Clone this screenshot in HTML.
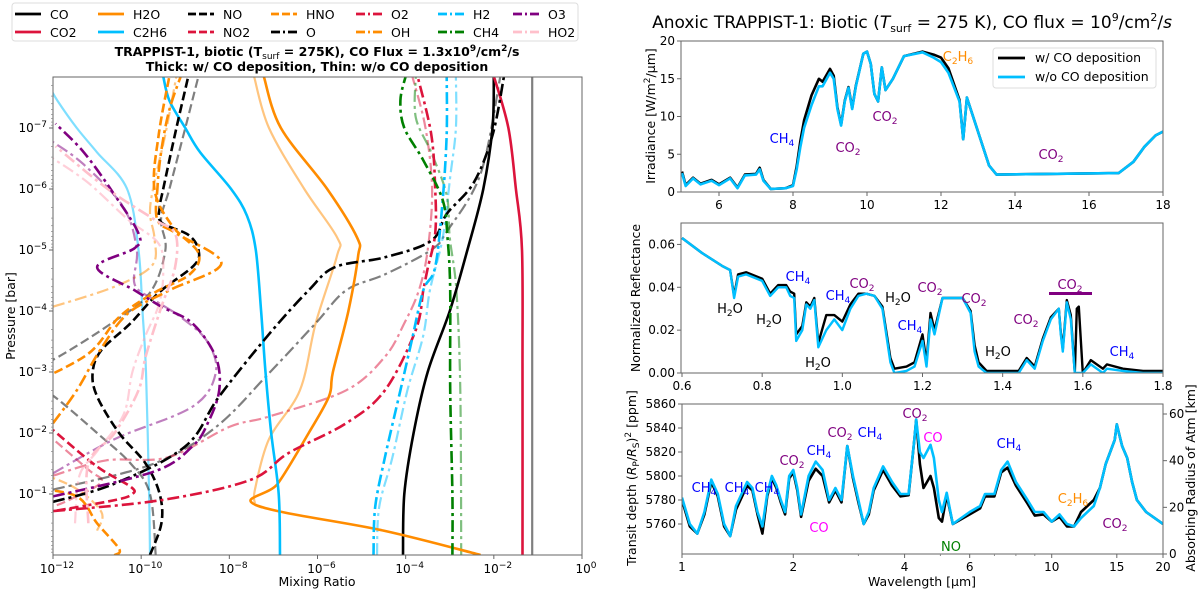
<!DOCTYPE html>
<html><head><meta charset="utf-8">
<style>
html,body{margin:0;padding:0;background:#fff;}
svg{display:block;font-family:"DejaVu Sans","Liberation Sans",sans-serif;}
</style></head>
<body>
<svg id="fig" width="1200" height="592" viewBox="0 0 1200 592" xmlns="http://www.w3.org/2000/svg">
<defs>
<clipPath id="clipL"><rect x="53" y="77" width="529" height="478"/></clipPath>
<clipPath id="clipP1"><rect x="681" y="41" width="482" height="151"/></clipPath>
<clipPath id="clipP2"><rect x="681" y="223" width="482" height="150"/></clipPath>
<clipPath id="clipP3"><rect x="682" y="404" width="481" height="150"/></clipPath>
</defs>
<g id="left"></g>
<g id="right"></g>
</svg>
<script>
// ---------------- LEFT PANEL DATA: [log10 mixing ratio, log10 pressure(bar)] ----------------
const speciesNames = ["CO","CO2","H2O","C2H6","NO","NO2","HNO","O","O2","OH","H2","CH4","O3","HO2"];
const CO_thick = [[-4.06,0],[-4.03,-1],[-3.82,-2],[-3.5,-3],[-3.0,-4],[-2.6,-5],[-2.24,-6],[-2.03,-7],[-2.0,-7.85]];
const CO_thin = [[-1.13,0],[-1.13,-4],[-1.13,-7.85]];
const CO2_thick = [[-1.35,0],[-1.35,-3],[-1.36,-5],[-1.5,-6],[-1.67,-7],[-2.0,-7.85]];
const H2O_thick = [[-2.3,0],[-4.5,-0.4],[-7.4,-0.82],[-6.9,-1.17],[-6.2,-2],[-5.74,-2.6],[-5.65,-3],[-5.3,-4],[-5.08,-4.9],[-5.1,-5.2],[-5.78,-6],[-6.83,-7],[-7.22,-7.85]];
const H2O_thin = [[-7.42,-0.85],[-7.42,-1.07],[-7.1,-1.9],[-6.4,-2.7],[-6.04,-3.8],[-5.56,-4.9],[-5.55,-5.2],[-6.3,-6],[-7.1,-7],[-7.44,-7.85]];
const C2H6_thick = [[-6.85,0],[-6.88,-1],[-7.05,-2],[-7.18,-3],[-7.28,-4],[-7.4,-5],[-7.6,-5.56],[-7.96,-6],[-8.66,-6.6],[-9.0,-7],[-9.36,-7.45],[-9.5,-7.85]];
const C2H6_thin = [[-9.8,0],[-9.82,-1],[-9.89,-3],[-9.97,-4],[-10.06,-5],[-10.32,-6],[-11.0,-6.6],[-11.46,-7],[-11.9,-7.45],[-12.1,-7.7]];
const NO_thick = [[-9.8,0],[-9.54,-0.52],[-9.58,-1],[-9.9,-1.5],[-10.5,-2],[-11.0,-2.6],[-11.1,-3],[-10.9,-3.36],[-10.24,-3.8],[-9.6,-4.3],[-8.8,-4.75],[-8.7,-5.0],[-8.93,-5.25],[-9.54,-5.45],[-9.58,-5.7],[-9.5,-6],[-9.2,-7],[-8.93,-7.85]];
const NO_thin = [[-9.67,0],[-9.8,-1],[-10.24,-1.5],[-11.0,-2],[-11.8,-2.5],[-12.5,-2.9],[-12.5,-3.1],[-12.0,-3.2],[-10.67,-3.8],[-9.8,-4.3],[-9.45,-5],[-9.55,-5.5],[-9.36,-6],[-9.0,-7],[-8.7,-7.85]];
const NO2_thick = [[-12.5,-0.7],[-12,-0.72],[-10.6,-0.9],[-10.2,-1.0],[-10.24,-1.12],[-11.0,-1.45],[-12,-2.05]];
const NO2_thin = [[-12.5,-0.78],[-12,-0.8],[-11.5,-0.95],[-10.9,-1.2],[-11.2,-1.4],[-12,-1.9]];
const HNO_thick = [[-10.6,0],[-10.5,-0.1],[-11.0,-0.52],[-11.46,-0.96],[-12.5,-1.1]];
const HNO_thin = [[-11.0,-0.4],[-10.9,-0.7],[-11.5,-1.1],[-12.5,-1.4]];
const HNO_thick_up = [[-12.5,-2.8],[-11.2,-3.3],[-10.5,-3.9],[-9.7,-4.3],[-8.9,-4.6],[-8.7,-4.95],[-9.3,-5.4],[-9.7,-6.0],[-9.6,-6.9],[-9.36,-7.85]];
const O_thick = [[-12,-0.87],[-10.6,-1.17],[-9.0,-1.78],[-8.23,-2.6],[-7.1,-3.62],[-6.2,-4.34],[-5.6,-4.72],[-4.47,-4.88],[-3.42,-5.15],[-3.07,-5.59],[-2.46,-6.1],[-2.03,-6.88],[-1.77,-7.85]];
const O_thin = [[-12,-1.07],[-9.7,-1.5],[-8.3,-2.1],[-7.1,-2.98],[-6.04,-3.8],[-5.35,-4.34],[-4.47,-4.6],[-3.42,-5.0],[-3.07,-5.3],[-2.3,-6.25],[-1.85,-7.85]];
const O2_thick = [[-12,-0.72],[-9.54,-0.9],[-7.53,-1.23],[-6.66,-1.67],[-5.35,-2.16],[-4.47,-2.7],[-3.77,-3.69],[-3.6,-4.34],[-3.5,-4.7],[-3.33,-5.27],[-3.33,-6.0],[-3.42,-6.9],[-3.73,-7.85]];
const O2_thin = [[-12,-1.3],[-10.8,-1.55],[-9.4,-1.6],[-8,-2.1],[-7.1,-2.27],[-5.35,-2.7],[-4.47,-3.25],[-4.03,-3.8],[-3.7,-4.34],[-3.5,-5.0],[-3.4,-6.0],[-3.55,-7.0],[-3.85,-7.85]];
const OH_thick = [[-12,-2.16],[-11.46,-2.7],[-10.93,-3.36],[-10.3,-3.96],[-9.36,-4.34],[-8.18,-4.78],[-9.2,-5.27],[-9.63,-5.49],[-9.63,-6.03],[-9.54,-6.64],[-9.36,-7.3],[-9.1,-7.85]];
const OH_thin = [[-12,-4.07],[-10.6,-4.4],[-9.75,-4.75],[-9.7,-5.2],[-9.8,-5.6],[-9.72,-6.04],[-9.45,-6.9],[-9.2,-7.85]];
const H2_thick = [[-4.73,0],[-4.69,-0.79],[-4.47,-1.6],[-4.12,-2.7],[-3.86,-3.52],[-3.6,-4.34],[-3.33,-4.72],[-3.16,-5.82],[-3.07,-6.9],[-3.07,-7.85]];
const H2_thin = [[-4.65,0],[-4.6,-0.79],[-4.3,-1.6],[-3.96,-2.7],[-3.6,-3.6],[-3.45,-4.34],[-3.16,-5.2],[-2.99,-6.2],[-2.86,-7.0],[-2.86,-7.85]];
const CH4_thick = [[-2.94,0],[-2.94,-1],[-2.99,-2.7],[-2.99,-4.34],[-3.05,-5.2],[-3.16,-5.82],[-3.6,-6.47],[-4.03,-7.0],[-4.12,-7.45],[-4.0,-7.85]];
const CH4_thin = [[-2.74,0],[-2.76,-2.7],[-2.85,-4.34],[-3.0,-5.2],[-3.07,-5.9],[-3.42,-6.6],[-3.77,-7.17],[-3.77,-7.85]];
const O3_thick = [[-12,-0.96],[-9.7,-1.37],[-8.84,-1.78],[-8.49,-2.16],[-8.23,-2.7],[-8.31,-3.25],[-8.84,-3.8],[-9.54,-4.07],[-10.15,-4.34],[-11.0,-4.72],[-10.15,-5.03],[-10.06,-5.27],[-10.6,-5.9],[-11.3,-6.6],[-11.94,-7.07]];
const O3_thin = [[-12,-1.34],[-10.6,-1.9],[-8.84,-2.43],[-8.31,-2.98],[-8.5,-3.5],[-9.1,-3.9],[-9.7,-4.18],[-10.15,-4.44],[-10.1,-5.0],[-10.4,-5.7],[-11.3,-6.4],[-12,-6.77]];
const HO2_thick = [[-11.2,-0.52],[-11.2,-1.5],[-10.6,-2.0],[-10.06,-2.7],[-9.9,-3.25],[-9.54,-4.07],[-9.23,-4.72],[-9.23,-5.27],[-9.7,-5.5],[-10.76,-6.0],[-11.94,-6.7]];
const HO2_thin = [[-11.5,-0.52],[-11.4,-1.3],[-11.0,-1.7],[-10.4,-2.3],[-10.2,-3.0],[-9.9,-3.6],[-9.6,-4.1],[-9.5,-4.6],[-9.6,-5.1],[-10.3,-5.5],[-11.2,-6.1],[-12,-6.5]];
const xTickExps = [-12,-10,-8,-6,-4,-2,0];
const yTickExps = [-7,-6,-5,-4,-3,-2,-1];

// ---------------- RIGHT PANEL DATA ----------------
const irrWl = [5.0,5.1,5.3,5.5,5.8,6.0,6.3,6.5,6.7,7.0,7.1,7.2,7.4,7.8,8.0,8.1,8.2,8.3,8.5,8.7,8.8,9.0,9.1,9.2,9.3,9.4,9.5,9.6,9.7,9.9,10.0,10.1,10.2,10.3,10.4,10.5,10.7,11.0,11.5,11.8,12.0,12.2,12.5,12.6,12.7,13.0,13.3,13.5,16.8,17.2,17.5,17.8,18.0];
const irrBlue = [2.5,0.8,1.8,1.0,1.5,0.9,1.8,0.5,2.2,2.3,3.0,1.5,0.4,0.5,0.8,3.0,6.0,8.5,11.5,14.0,14.0,15.8,15.0,11.0,8.8,12.0,13.8,11.0,14.0,18.3,18.6,17.0,13.0,12.0,16.5,13.5,15.0,18.0,18.5,17.8,17.2,15.8,12.0,7.0,12.5,8.0,3.5,2.3,2.5,4.0,6.0,7.5,8.0];
const irrBlack = [2.7,0.9,1.9,1.1,1.6,1.0,1.9,0.6,2.3,2.4,3.2,1.6,0.4,0.5,0.9,3.4,6.8,9.5,12.8,15.0,14.6,16.3,15.4,11.2,8.9,12.1,13.9,11.1,14.1,18.3,18.6,17.0,13.0,12.0,16.5,13.5,15.0,18.0,18.6,18.2,17.8,16.4,12.2,7.0,12.5,8.0,3.5,2.3,2.5,4.0,6.0,7.5,8.0];
const reflWl = [0.6,0.65,0.7,0.72,0.73,0.74,0.76,0.8,0.82,0.84,0.86,0.87,0.88,0.885,0.9,0.91,0.92,0.93,0.94,0.96,0.98,1.0,1.02,1.04,1.06,1.08,1.1,1.12,1.13,1.16,1.18,1.2,1.21,1.22,1.23,1.25,1.3,1.32,1.33,1.34,1.36,1.44,1.46,1.48,1.5,1.52,1.54,1.545,1.55,1.56,1.57,1.58,1.585,1.59,1.6,1.62,1.65,1.66,1.7,1.75,1.8];
const reflBlue = [0.063,0.056,0.05,0.048,0.035,0.045,0.046,0.043,0.036,0.04,0.04,0.036,0.035,0.015,0.02,0.032,0.03,0.034,0.012,0.02,0.025,0.02,0.03,0.036,0.037,0.036,0.03,0.005,0.0,0.001,0.003,0.015,0.003,0.025,0.018,0.035,0.035,0.028,0.01,0.003,0.0,0.0,0.006,0.002,0.015,0.025,0.03,0.018,0.01,0.033,0.025,0.0,0.0,0.0,0.0,0.004,0.0,0.002,0.001,0.0,0.0];
const reflBlack = [0.063,0.056,0.05,0.048,0.036,0.046,0.047,0.044,0.037,0.041,0.041,0.038,0.037,0.018,0.022,0.033,0.031,0.035,0.014,0.027,0.027,0.024,0.032,0.037,0.037,0.036,0.031,0.007,0.002,0.003,0.005,0.018,0.005,0.028,0.02,0.035,0.035,0.029,0.013,0.005,0.001,0.001,0.007,0.003,0.016,0.026,0.03,0.019,0.011,0.034,0.027,0.0,0.03,0.031,0.0,0.006,0.002,0.004,0.002,0.001,0.001];
const transWl = [1.0,1.05,1.1,1.15,1.2,1.25,1.3,1.35,1.4,1.5,1.55,1.6,1.65,1.7,1.75,1.8,1.85,1.9,1.95,2.0,2.05,2.1,2.2,2.3,2.4,2.5,2.6,2.7,2.8,2.9,3.0,3.1,3.2,3.3,3.5,3.7,3.9,4.1,4.25,4.3,4.4,4.5,4.7,4.8,4.95,5.05,5.2,5.4,6.0,6.4,6.6,7.0,7.3,7.6,8.0,8.6,9.0,9.5,10,10.5,11,11.5,12,13,13.5,14,14.8,15,15.5,16,16.5,17,18,20];
const transBlue = [5782,5760,5752,5770,5797,5785,5760,5750,5775,5795,5790,5770,5758,5785,5800,5792,5780,5770,5800,5805,5790,5768,5800,5812,5805,5780,5790,5780,5825,5800,5780,5760,5770,5790,5808,5795,5785,5785,5830,5847,5820,5815,5826,5815,5780,5770,5786,5760,5770,5775,5785,5785,5805,5812,5795,5780,5770,5770,5762,5768,5760,5758,5765,5775,5790,5810,5830,5843,5825,5815,5795,5780,5770,5760];
const transBlack = [5780,5758,5752,5768,5795,5783,5758,5750,5772,5792,5788,5768,5752,5783,5798,5790,5778,5768,5798,5803,5788,5766,5796,5806,5800,5778,5788,5778,5825,5798,5778,5760,5768,5788,5805,5792,5783,5784,5830,5847,5810,5790,5800,5790,5765,5762,5784,5760,5768,5773,5783,5783,5803,5807,5792,5777,5767,5768,5762,5766,5758,5758,5770,5780,5790,5810,5830,5843,5825,5815,5795,5780,5770,5760];
const irrYTicks = [0,5,10,15,20];
const irrXTicks = [6,8,10,12,14,16,18];
const reflYTicks = [0,0.02,0.04,0.06];
const reflXTicks = [0.6,0.8,1.0,1.2,1.4,1.6,1.8];
const transYTicks = [5760,5780,5800,5820,5840,5860];
const transXTicks = [1,2,4,6,10,15,20];
const radiusTicks = [0,20,40,60];

const NS = "http://www.w3.org/2000/svg";
function mk(tag, attrs, parent){const e=document.createElementNS(NS,tag);for(const k in attrs)e.setAttribute(k,attrs[k]);if(parent)parent.appendChild(e);return e;}

// ---------------- LEFT PANEL ----------------
const L = document.getElementById('left');
const LX = v => 53 + (v+12)*(529/12);
const LY = p => 555 + p*61;
const dashS = "9,4", dashDD = "12,4,3,4";
const colors = {black:"#000000",crimson:"#DC143C",orange:"#FF8C00",sky:"#00BFFF",green:"#008000",purple:"#800080",pink:"#FFC0CB"};

const gCurves = mk('g',{'clip-path':'url(#clipL)'},L);


function smoothPath(pts){
  if(pts.length<3) return pts.map((p,i)=>(i?'L':'M')+p[0].toFixed(1)+','+p[1].toFixed(1)).join(' ');
  let d='M'+pts[0][0].toFixed(1)+','+pts[0][1].toFixed(1);
  for(let i=0;i<pts.length-1;i++){
    const p0=pts[Math.max(0,i-1)],p1=pts[i],p2=pts[i+1],p3=pts[Math.min(pts.length-1,i+2)];
    const c1x=p1[0]+(p2[0]-p0[0])/6,c1y=p1[1]+(p2[1]-p0[1])/6;
    const c2x=p2[0]-(p3[0]-p1[0])/6,c2y=p2[1]-(p3[1]-p1[1])/6;
    d+=' C'+c1x.toFixed(1)+','+c1y.toFixed(1)+' '+c2x.toFixed(1)+','+c2y.toFixed(1)+' '+p2[0].toFixed(1)+','+p2[1].toFixed(1);
  }
  return d;
}
function profile(data, color, dash, thick, name){
  const d = smoothPath(data.map(pt=>[LX(pt[0]),LY(pt[1])]));
  const p = mk('path',{d:d,fill:'none',stroke:color,'stroke-width':thick?2.6:2.2,'stroke-opacity':thick?1:0.5,'stroke-linejoin':'round'},gCurves);
  if(dash) p.setAttribute('stroke-dasharray',dash);
  
  
}
profile(CO_thin,colors.black,null,false,'co-thin');
profile(H2O_thin,colors.orange,null,false,'h2o-thin');
profile(C2H6_thin,colors.sky,null,false,'c2h6-thin');
profile(NO_thin,colors.black,dashS,false,'no-thin');
profile(NO2_thin,colors.crimson,dashS,false,'no2-thin');
profile(HNO_thin,colors.orange,dashS,false,'hno-thin');
profile(O_thin,colors.black,dashDD,false,'o-thin');
profile(O2_thin,colors.crimson,dashDD,false,'o2-thin');
profile(OH_thin,colors.orange,dashDD,false,'oh-thin');
profile(H2_thin,colors.sky,dashDD,false,'h2-thin');
profile(CH4_thin,colors.green,dashDD,false,'ch4-thin');
profile(O3_thin,colors.purple,dashDD,false,'o3-thin');
profile(HO2_thin,"#FFA0B4",dashDD,false,'ho2-thin');
profile(CO_thick,colors.black,null,true,'co-thick');
profile(CO2_thick,colors.crimson,null,true,'co2-thick');
profile(H2O_thick,colors.orange,null,true,'h2o-thick');
profile(C2H6_thick,colors.sky,null,true,'c2h6-thick');
profile(NO_thick,colors.black,dashS,true,'no-thick');
profile(NO2_thick,colors.crimson,dashS,true,'no2-thick');
profile(HNO_thick,colors.orange,dashS,true,'hno-thick');
profile(HNO_thick_up,colors.orange,dashS,true,'hno-thick-upper');
profile(O_thick,colors.black,dashDD,true,'o-thick');
profile(O2_thick,colors.crimson,dashDD,true,'o2-thick');
profile(OH_thick,colors.orange,dashDD,true,'oh-thick');
profile(H2_thick,colors.sky,dashDD,true,'h2-thick');
profile(CH4_thick,colors.green,dashDD,true,'ch4-thick');
profile(O3_thick,colors.purple,dashDD,true,'o3-thick');
profile(HO2_thick,colors.pink,dashDD,true,'ho2-thick');

const lframe = mk('rect',{x:53,y:77,width:529,height:478,fill:'none',stroke:'#666','stroke-width':1},L);



function powLabel(parent,x,y,exp,anchor,name){
  const t = mk('text',{x:x,y:y,'font-size':12,'text-anchor':anchor,fill:'#000'},parent);
  
  
  const a = mk('tspan',{},t); a.textContent='10';
  const b = mk('tspan',{dy:-5,'font-size':9}, t); b.textContent = exp<0 ? '\u2212'+Math.abs(exp) : String(exp);
  return t;
}
xTickExps.forEach(e=>{
  const x=LX(e);
  const tk = mk('line',{x1:x,x2:x,y1:555,y2:559,stroke:'#666'},L);
  
  
  powLabel(L,x+4,573,e,'middle','x-tick-label');
});
yTickExps.forEach(e=>{
  const y=LY(e);
  const tk = mk('line',{x1:49,x2:53,y1:y,y2:y,stroke:'#666'},L);
  
  
  powLabel(L,47,y+4,e,'end','y-tick-label');
});
for(let e=-8;e<=0;e++){for(let m=2;m<=9;m++){const p=e+Math.log10(m);if(p>0||p<-7.84)continue;const y=LY(p);
  const mt=mk('line',{x1:51,x2:53,y1:y,y2:y,stroke:'#888','stroke-width':0.7},L);
  
  }}

let t;
t = mk('text',{x:317,y:586,'font-size':12.5,'text-anchor':'middle'},L); t.textContent='Mixing Ratio';
 
t = mk('text',{x:0,y:0,'font-size':12.5,'text-anchor':'middle',transform:'translate(15,316) rotate(-90)'},L); t.textContent='Pressure [bar]';
 

const lt = mk('g',{},L);
 
lt.innerHTML = '<text x="317" y="56" font-size="12.5" font-weight="bold" text-anchor="middle">TRAPPIST-1, biotic (T<tspan font-size="9" dy="3" font-weight="normal">surf</tspan><tspan dy="-3"> = 275K), CO Flux = 1.3x10</tspan><tspan font-size="9" dy="-5">9</tspan><tspan dy="5">/cm</tspan><tspan font-size="9" dy="-5">2</tspan><tspan dy="5">/s</tspan></text>'+
 '<text x="317" y="71" font-size="12.5" font-weight="bold" text-anchor="middle">Thick: w/ CO deposition, Thin: w/o CO deposition</text>';

const lg = mk('g',{},L);
 
mk('rect',{x:12,y:3,width:566,height:38,rx:3,fill:'#fff',stroke:'#ddd'},lg);
const legCols = [15,98,188,271,356,438,513];
const legRows = [14,32];
const legItems = [
 ["CO",colors.black,null],["CO2",colors.crimson,null],
 ["H2O",colors.orange,null],["C2H6",colors.sky,null],
 ["NO",colors.black,dashS],["NO2",colors.crimson,dashS],
 ["HNO",colors.orange,dashS],["O",colors.black,dashDD],
 ["O2",colors.crimson,dashDD],["OH",colors.orange,dashDD],
 ["H2",colors.sky,dashDD],["CH4",colors.green,dashDD],
 ["O3",colors.purple,dashDD],["HO2",colors.pink,dashDD]];
legItems.forEach((it,i)=>{
  const c=Math.floor(i/2), r=i%2, x=legCols[c], y=legRows[r];
  const g = mk('g',{},lg);
  
  
  const ln = mk('line',{x1:x,x2:x+26,y1:y,y2:y,stroke:it[1],'stroke-width':2.8},g);
  if(it[2]) ln.setAttribute('stroke-dasharray', it[2]==dashS?"8,3":"9,3,2,3");
  const tx = mk('text',{x:x+35,y:y+5,'font-size':12.5},g); tx.textContent=it[0];
});

// ---------------- RIGHT PANELS ----------------
const R = document.getElementById('right');
function frame(x,y,w,h,name){const r=mk('rect',{x:x,y:y,width:w,height:h,fill:'none',stroke:'#666','stroke-width':1},R);
  }
function txt(x,y,s,size,anchor,color,name,extra){const e=mk('text',Object.assign({x:x,y:y,'font-size':size,'text-anchor':anchor||'middle',fill:color||'#000'},extra||{}),R);e.textContent=s;
   return e;}
function subLabel(x,y,parts,color,name,size){
  const e = mk('text',{x:x,y:y,'font-size':size||13,'text-anchor':'middle',fill:color},R);
   
  let down=false;
  parts.forEach((p,i)=>{ if(p==='')return; const ts=mk('tspan',{},e); ts.textContent=p;
    if(i%2===1){ts.setAttribute('font-size',(size||13)*0.7);ts.setAttribute('dy',3);down=true;}
    else if(down){ts.setAttribute('dy',-3);down=false;} });
}
function series(g,xs,ys,fx,fy,color,w,name){
  const d = xs.map((v,i)=>(i?'L':'M')+fx(v).toFixed(1)+','+fy(ys[i]).toFixed(1)).join(' ');
  const p = mk('path',{d:d,fill:'none',stroke:color,'stroke-width':w,'stroke-linejoin':'round'},g);
   
}
const blue="#00BFFF";

const rt = mk('text',{x:912,y:28,'font-size':17,'text-anchor':'middle'},R);
 
rt.innerHTML='Anoxic TRAPPIST-1: Biotic (<tspan font-style="italic">T</tspan><tspan font-size="11" dy="4">surf</tspan><tspan dy="-4"> = 275 K), CO flux = 10</tspan><tspan font-size="11" dy="-7">9</tspan><tspan dy="7">/cm</tspan><tspan font-size="11" dy="-7">2</tspan><tspan dy="7">/</tspan><tspan font-style="italic">s</tspan>';

// Panel 1
const X1 = v => 682 + (v-5)*37, Y1 = v => 192 - v*(151/20);
const g1 = mk('g',{'clip-path':'url(#clipP1)'},R);
 
series(g1,irrWl,irrBlack,X1,Y1,'#000',2.6,'irradiance-with-deposition');
series(g1,irrWl,irrBlue,X1,Y1,blue,2.6,'irradiance-without-deposition');
frame(681,41,482,151,'irradiance-frame');
irrYTicks.forEach(v=>{mk('line',{x1:677,x2:681,y1:Y1(v),y2:Y1(v),stroke:'#666'},R);txt(675,Y1(v)+4,String(v),12,'end','#000','irradiance-y-tick');});
irrXTicks.forEach(v=>{mk('line',{x1:X1(v),x2:X1(v),y1:192,y2:196,stroke:'#666'},R);txt(X1(v),209,String(v),12,'middle','#000','irradiance-x-tick');});
const il = mk('text',{x:0,y:0,'font-size':12.5,'text-anchor':'middle',transform:'translate(655,116) rotate(-90)'},R);
 
il.innerHTML='Irradiance [W/m<tspan font-size="9" dy="-5">2</tspan><tspan dy="5">/\u03bcm]</tspan>';
subLabel(782,143,['CH','4'],'#0000FF','label-ch4');
subLabel(848,152,['CO','2'],'#800080','label-co2');
subLabel(885,121,['CO','2'],'#800080','label-co2');
subLabel(958,61,['C','2','H','6'],'#FF8C00','label-c2h6');
subLabel(1051,159,['CO','2'],'#800080','label-co2');
const lg1 = mk('g',{},R);
 
mk('rect',{x:993,y:48,width:163,height:40,rx:3,fill:'#fff',stroke:'#ddd'},lg1);
const e1 = mk('g',{},lg1);  
mk('line',{x1:998,x2:1025,y1:58,y2:58,stroke:'#000','stroke-width':2.8},e1);
mk('text',{x:1035,y:62,'font-size':12.5},e1).textContent='w/ CO deposition';
const e2 = mk('g',{},lg1);  
mk('line',{x1:998,x2:1025,y1:77,y2:77,stroke:blue,'stroke-width':2.8},e2);
mk('text',{x:1035,y:81,'font-size':12.5},e2).textContent='w/o CO deposition';

// Panel 2
const X2 = v => 682 + (v-0.6)*(481/1.2), Y2 = v => 373 - v*(150/0.07);
const g2 = mk('g',{'clip-path':'url(#clipP2)'},R);
 
series(g2,reflWl,reflBlack,X2,Y2,'#000',2.4,'reflectance-with-deposition');
series(g2,reflWl,reflBlue,X2,Y2,blue,2.4,'reflectance-without-deposition');
frame(681,223,482,150,'reflectance-frame');
reflYTicks.forEach(v=>{mk('line',{x1:677,x2:681,y1:Y2(v),y2:Y2(v),stroke:'#666'},R);txt(675,Y2(v)+4,v.toFixed(2),12,'end','#000','reflectance-y-tick');});
reflXTicks.forEach(v=>{mk('line',{x1:X2(v),x2:X2(v),y1:373,y2:377,stroke:'#666'},R);txt(X2(v),390,v.toFixed(1),12,'middle','#000','reflectance-x-tick');});
txt(0,0,'Normalized Reflectance',12.5,'middle','#000','reflectance-axis-title',{transform:'translate(640,298) rotate(-90)'});
subLabel(730,313,['H','2','O'],'#000','label-h2o');
subLabel(769,324,['H','2','O'],'#000','label-h2o');
subLabel(798,281,['CH','4'],'#0000FF','label-ch4');
subLabel(818,367,['H','2','O'],'#000','label-h2o');
subLabel(838,300,['CH','4'],'#0000FF','label-ch4');
subLabel(862,288,['CO','2'],'#800080','label-co2');
subLabel(898,302,['H','2','O'],'#000','label-h2o');
subLabel(930,292,['CO','2'],'#800080','label-co2');
subLabel(910,330,['CH','4'],'#0000FF','label-ch4');
subLabel(974,303,['CO','2'],'#800080','label-co2');
subLabel(998,356,['H','2','O'],'#000','label-h2o');
subLabel(1026,324,['CO','2'],'#800080','label-co2');
subLabel(1070,289,['CO','2'],'#800080','label-co2-band');
const bar = mk('line',{x1:1049,x2:1092,y1:293.5,y2:293.5,stroke:'#800080','stroke-width':3},R);
 
subLabel(1122,356,['CH','4'],'#0000FF','label-ch4');

// Panel 3
const lg20 = Math.log10(20);
const X3 = v => 682 + Math.log10(v)/lg20*481, Y3 = v => 554 - (v-5735)*(150/125);
const g3 = mk('g',{'clip-path':'url(#clipP3)'},R);
 
series(g3,transWl,transBlack,X3,Y3,'#000',2.6,'transit-with-deposition');
series(g3,transWl,transBlue,X3,Y3,blue,2.6,'transit-without-deposition');
frame(682,404,481,150,'transit-frame');
transYTicks.forEach(v=>{mk('line',{x1:678,x2:682,y1:Y3(v),y2:Y3(v),stroke:'#666'},R);txt(676,Y3(v)+4,String(v),12,'end','#000','transit-y-tick');});
transXTicks.forEach(v=>{mk('line',{x1:X3(v),x2:X3(v),y1:554,y2:558,stroke:'#666'},R);txt(X3(v),571,String(v),12,'middle','#000','transit-x-tick');});
[3,5,7,8,9].forEach(v=>{mk('line',{x1:X3(v),x2:X3(v),y1:554,y2:556,stroke:'#888'},R);});
radiusTicks.forEach(v=>{const y=554-v*(140/60);mk('line',{x1:1163,x2:1167,y1:y,y2:y,stroke:'#666'},R);txt(1169,y+4,String(v),12,'start','#000','radius-y-tick');});
const tl = mk('text',{x:0,y:0,'font-size':12.5,'text-anchor':'middle',transform:'translate(636,478) rotate(-90)'},R);
 
tl.innerHTML='Transit depth (<tspan font-style="italic">R</tspan><tspan font-size="9" dy="3">P</tspan><tspan dy="-3">/</tspan><tspan font-style="italic">R</tspan><tspan font-size="9" dy="3">S</tspan><tspan dy="-3">)</tspan><tspan font-size="9" dy="-5">2</tspan><tspan dy="5"> [ppm]</tspan>';
txt(0,0,'Absorbing Radius of Atm [km]',12.5,'middle','#000','radius-axis-title',{transform:'translate(1195,478) rotate(-90)'});
txt(922,586,'Wavelength [\u03bcm]',12.5,'middle','#000','wavelength-axis-title');
subLabel(704,492,['CH','4'],'#0000FF','label-ch4');
subLabel(737,492,['CH','4'],'#0000FF','label-ch4');
subLabel(767,492,['CH','4'],'#0000FF','label-ch4');
subLabel(792,465,['CO','2'],'#800080','label-co2');
subLabel(819,455,['CH','4'],'#0000FF','label-ch4');
subLabel(819,532,['CO'],'#FF00FF','label-co');
subLabel(840,437,['CO','2 '],'#800080','label-co2');
subLabel(870,437,['CH','4'],'#0000FF','label-ch4');
subLabel(915,418,['CO','2'],'#800080','label-co2');
subLabel(933,442,['CO'],'#FF00FF','label-co');
subLabel(1009,448,['CH','4'],'#0000FF','label-ch4');
subLabel(1073,503,['C','2','H','6'],'#FF8C00','label-c2h6');
subLabel(1115,528,['CO','2'],'#800080','label-co2');
subLabel(951,551,['NO'],'#008000','label-no');
</script>
</body></html>
